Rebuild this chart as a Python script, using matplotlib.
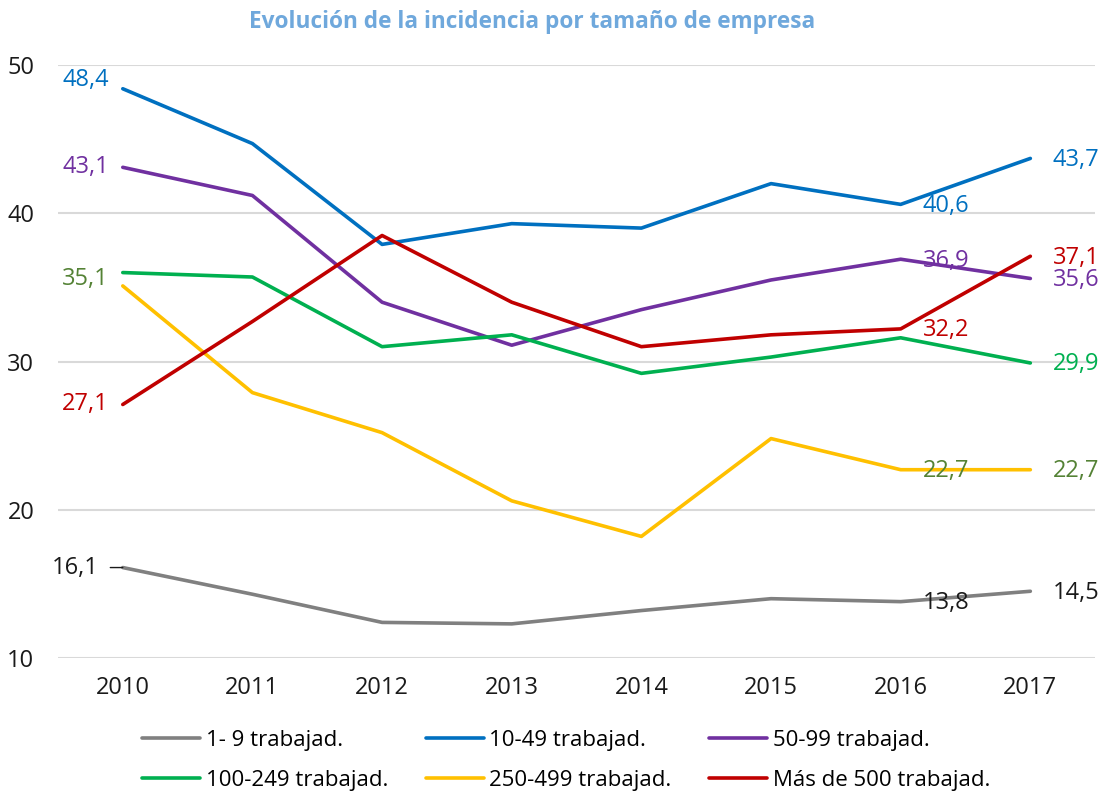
import matplotlib.pyplot as plt

plt.rcParams['font.family'] = ['Open Sans', 'DejaVu Sans']

# datos
years = ['2010', '2011', '2012', '2013', '2014', '2015', '2016', '2017']
series_names = ['1- 9 trabajad.', '10-49 trabajad.', '50-99 trabajad.',
                '100-249 trabajad.', '250-499 trabajad.', 'Más de 500 trabajad.']
s_1_9 = [16.1, 14.3, 12.4, 12.3, 13.2, 14.0, 13.8, 14.5]
s_10_49 = [48.4, 44.7, 37.9, 39.3, 39.0, 42.0, 40.6, 43.7]
s_50_99 = [43.1, 41.2, 34.0, 31.1, 33.5, 35.5, 36.9, 35.6]
s_100_249 = [36.0, 35.7, 31.0, 31.8, 29.2, 30.3, 31.6, 29.9]
s_250_499 = [35.1, 27.9, 25.2, 20.6, 18.2, 24.8, 22.7, 22.7]
s_500 = [27.1, 32.7, 38.5, 34.0, 31.0, 31.8, 32.2, 37.1]
series = [s_1_9, s_10_49, s_50_99, s_100_249, s_250_499, s_500]

line_colors = ['#808080', '#0070C0', '#7030A0', '#00B050', '#FFC000', '#C00000']
label_colors = ['#1a1a1a', '#0070C0', '#7030A0', '#00B050', '#548235', '#C00000']
# índices de los puntos con etiqueta y desplazamiento vertical (pt) en 2010
labeled = [[0, 6, 7], [0, 6, 7], [0, 6, 7], [7], [0, 6, 7], [0, 6, 7]]
dy_first = [0, 6, 0, 0, 5, 0]

fig = plt.figure(figsize=(11.04, 7.96), dpi=100)
ax = fig.add_axes([0.0525, 0.1734, 0.9395, 0.7449])
x = list(range(len(years)))

lines = []
for i, vals in enumerate(series):
    ln, = ax.plot(x, vals, color=line_colors[i], lw=2.6, label=series_names[i],
                  solid_capstyle='round', zorder=3)
    lines.append(ln)
    for j in labeled[i]:
        txt = f'{vals[j]:.1f}'.replace('.', ',')
        if j == 0:
            if i == 0:
                ax.annotate(txt, (x[j], vals[j]), xytext=(-17, 0),
                            textcoords='offset points', ha='right', va='center',
                            fontsize=17, color=label_colors[i],
                            arrowprops=dict(arrowstyle='-', color='#1a1a1a',
                                            lw=1, shrinkA=6, shrinkB=0))
            else:
                ax.annotate(txt, (x[j], vals[j]), xytext=(-10, dy_first[i]),
                            textcoords='offset points', ha='right', va='center',
                            fontsize=17, color=label_colors[i])
        else:
            ax.annotate(txt, (x[j], vals[j]), xytext=(16, -1),
                        textcoords='offset points', ha='left', va='center',
                        fontsize=17, color=label_colors[i])

ax.set_xlim(-0.5, 7.5)
ax.set_ylim(10, 50)
ax.set_xticks(x)
ax.set_xticklabels(years)
ax.set_yticks([10, 20, 30, 40, 50])
ax.tick_params(length=0, labelsize=17, colors='#1a1a1a')
ax.tick_params(axis='y', pad=17)
ax.tick_params(axis='x', pad=13)
ax.grid(axis='y', color='#D9D9D9', lw=1.5)
ax.set_axisbelow(True)
for sp in ax.spines.values():
    sp.set_visible(False)

fig.text(0.482, 0.972, 'Evolución de la incidencia por tamaño de empresa',
         ha='center', va='center', fontsize=16.3, fontweight='bold',
         color='#6FA8DC')

# la leyenda se llena por columnas: reordenar para que quede por filas
order = [0, 3, 1, 4, 2, 5]
fig.legend([lines[k] for k in order], [series_names[k] for k in order],
           loc='upper left', bbox_to_anchor=(0.129, 0.083), ncol=3,
           frameon=False, fontsize=16, handlelength=2.6, handletextpad=0.25,
           columnspacing=1.7, labelspacing=0.85, borderpad=0, borderaxespad=0)

fig.savefig('out.png', dpi=100)
